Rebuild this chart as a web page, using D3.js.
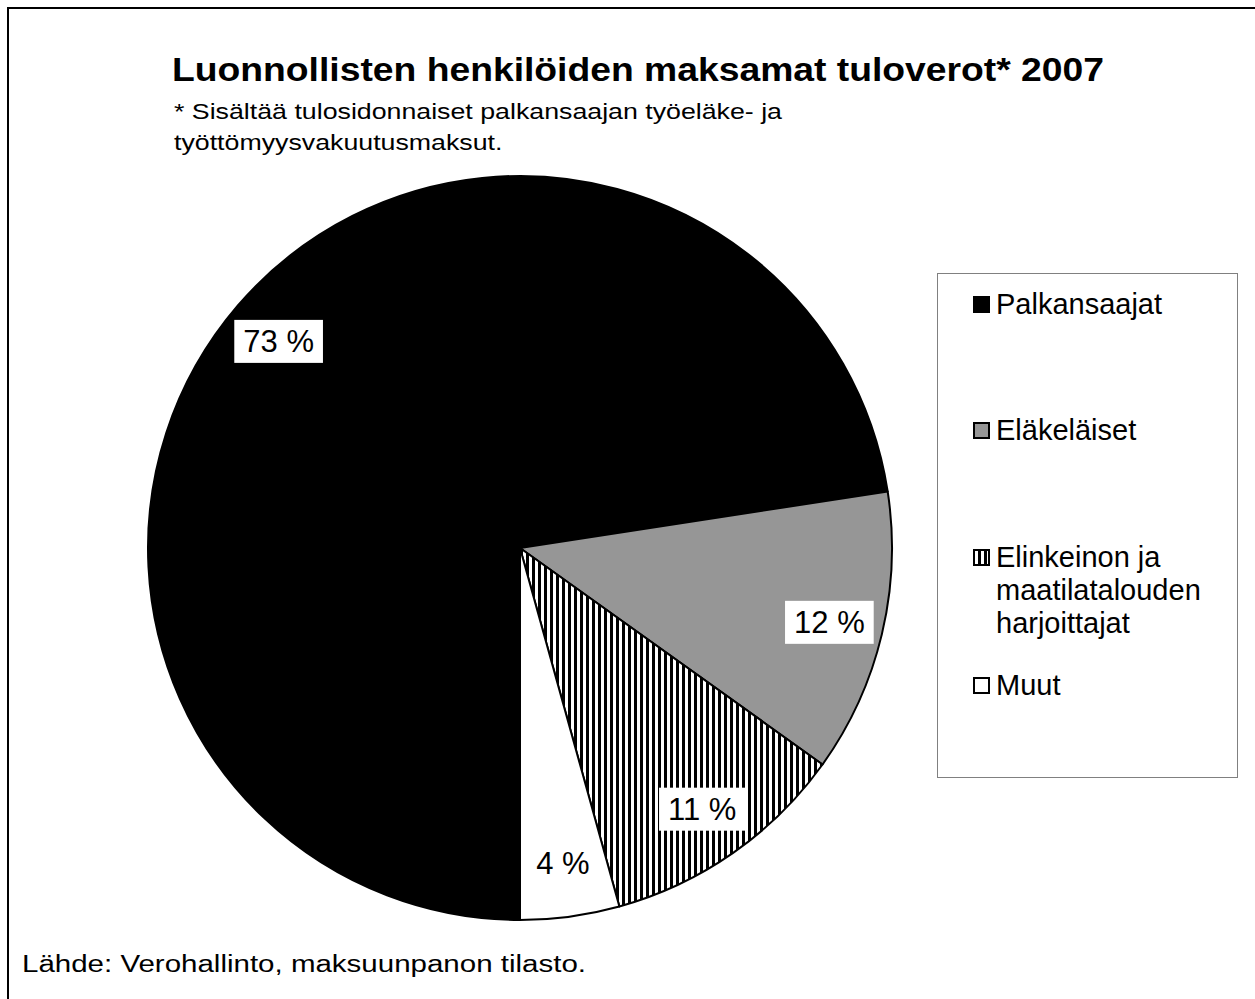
<!DOCTYPE html>
<html>
<head>
<meta charset="utf-8">
<script src="https://cdn.jsdelivr.net/npm/d3@7"></script>
<style>
  body { margin: 0; background: #fff; }
  svg text { font-family: Arial, "Liberation Sans", sans-serif; }
</style>
</head>
<body>
<svg id="chart" width="1255" height="999"></svg>
<script>
// data
const categories = ['Palkansaajat', 'Eläkeläiset', 'Elinkeinon ja maatilatalouden harjoittajat', 'Muut'];
const legendLines = [['Palkansaajat'], ['Eläkeläiset'], ['Elinkeinon ja', 'maatilatalouden', 'harjoittajat'], ['Muut']];
const shares = [72.5, 12.3, 10.8, 4.3];
const fills = ['#000000', '#969696', 'url(#vstripes)', '#ffffff'];

const svg = d3.select('#chart');
const W = 1255, H = 999;

// stripe pattern for the hatched slice
let defs = svg.append('defs');
let pat = defs.append('pattern')
  .attr('id', 'vstripes')
  .attr('patternUnits', 'userSpaceOnUse')
  .attr('width', 6)
  .attr('height', 6);
pat.append('rect').attr('width', 6).attr('height', 6).attr('fill', '#fff');
pat.append('rect').attr('x', 0).attr('width', 3).attr('height', 6).attr('fill', '#000');

// outer frame
svg.append('rect')
  .attr('x', 8).attr('y', 8)
  .attr('width', W + 20).attr('height', H + 20)
  .attr('fill', '#fff')
  .attr('stroke', '#000')
  .attr('stroke-width', 2);

// stretch a text horizontally so it matches the width seen in the original
function stretch(sel, factor) {
  let len = sel.node().getComputedTextLength();
  sel.attr('textLength', len * factor).attr('lengthAdjust', 'spacingAndGlyphs');
}

// titles
let title = svg.append('text')
  .attr('x', 172).attr('y', 81)
  .attr('font-size', 34)
  .attr('font-weight', 'bold')
  .text('Luonnollisten henkilöiden maksamat tuloverot* 2007');
stretch(title, 932 / title.node().getComputedTextLength());

let sub1 = svg.append('text')
  .attr('x', 174).attr('y', 119)
  .attr('font-size', 22)
  .text('* Sisältää tulosidonnaiset palkansaajan työeläke- ja');
let subFactor = 608 / sub1.node().getComputedTextLength();
stretch(sub1, subFactor);
let sub2 = svg.append('text')
  .attr('x', 174).attr('y', 150)
  .attr('font-size', 22)
  .text('työttömyysvakuutusmaksut.');
stretch(sub2, subFactor);

// pie
const cx = 520, cy = 548, r = 372;
const pie = d3.pie().sort(null).startAngle(Math.PI).endAngle(3 * Math.PI);
const arcs = pie(shares);
const arc = d3.arc().innerRadius(0).outerRadius(r);
const total = d3.sum(shares);

let g = svg.append('g').attr('transform', `translate(${cx},${cy})`);
g.selectAll('path.slice')
  .data(arcs)
  .join('path')
  .attr('class', 'slice')
  .attr('d', arc)
  .attr('fill', (d, i) => fills[i])
  .attr('stroke', '#000')
  .attr('stroke-width', 2)
  .attr('stroke-linejoin', 'round');

// data labels with white boxes
const labelArc = d3.arc().innerRadius(r * 0.855).outerRadius(r * 0.855);
let labels = g.selectAll('g.lbl')
  .data(arcs)
  .join('g')
  .attr('class', 'lbl')
  .attr('transform', d => `translate(${labelArc.centroid(d)})`);
labels.each(function(d) {
  let lg = d3.select(this);
  let t = lg.append('text')
    .attr('text-anchor', 'middle')
    .attr('dy', '0.36em')
    .attr('font-size', 31)
    .text(Math.round(d.data / total * 100) + ' %');
  let bb = t.node().getBBox();
  lg.insert('rect', 'text')
    .attr('x', bb.x - 9).attr('y', -21)
    .attr('width', bb.width + 18).attr('height', 43)
    .attr('fill', '#fff');
});

// legend
svg.append('rect')
  .attr('x', 937.5).attr('y', 273.5)
  .attr('width', 300).attr('height', 504)
  .attr('fill', '#fff')
  .attr('stroke', '#808080')
  .attr('stroke-width', 1);

const legendBase = [314, 440, 567, 695];
legendLines.forEach((lines, i) => {
  svg.append('rect')
    .attr('x', 974).attr('y', legendBase[i] - 17)
    .attr('width', 15).attr('height', 15)
    .attr('fill', fills[i])
    .attr('stroke', '#000')
    .attr('stroke-width', 2);
  let t = svg.append('text')
    .attr('x', 996).attr('y', legendBase[i])
    .attr('font-size', 29);
  lines.forEach((ln, k) => {
    t.append('tspan')
      .attr('x', 996)
      .attr('y', legendBase[i] + k * 33)
      .text(ln);
  });
});

// source
let src = svg.append('text')
  .attr('x', 22).attr('y', 972)
  .attr('font-size', 23)
  .text('Lähde: Verohallinto, maksuunpanon tilasto.');
stretch(src, 564 / src.node().getComputedTextLength());
</script>
</body>
</html>
